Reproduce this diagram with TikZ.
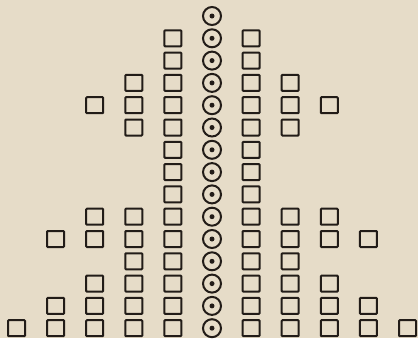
\documentclass[tikz,border=0pt]{standalone}
\definecolor{paper}{HTML}{E6DCC8}
\definecolor{ink}{HTML}{221C18}
\tikzset{
  sq/.style={draw=ink, line width=2pt, minimum width=17pt, minimum height=16pt, inner sep=0pt, rounded corners=0.8pt},
  ring/.style={draw=ink, line width=2pt, circle, minimum size=18pt, inner sep=0pt},
  dot/.style={fill=ink, circle, minimum size=5pt, inner sep=0pt}
}
\begin{document}
\begin{tikzpicture}[x=1pt,y=-1pt]
\fill[paper] (0,0) rectangle (418,338);
\useasboundingbox (0,0) rectangle (418,338);
\foreach \w [count=\r] in {0,1,1,2,3,2,1,1,1,3,4,2,3,4,5}{
  \pgfmathsetmacro{\yy}{16+22.3*(\r-1)}
  \node[ring] (c\r) at (212,\yy) {};
  \node[dot] (d\r) at (c\r.center) {};
  \ifnum\w>0
    \foreach \k in {1,...,\w}{
      \node[sq] (l\r-\k) at ({212-39.1*\k},\yy) {};
      \node[sq] (r\r-\k) at ({212+39.1*\k},\yy) {};
    }
  \fi
}
\end{tikzpicture}
\end{document}
